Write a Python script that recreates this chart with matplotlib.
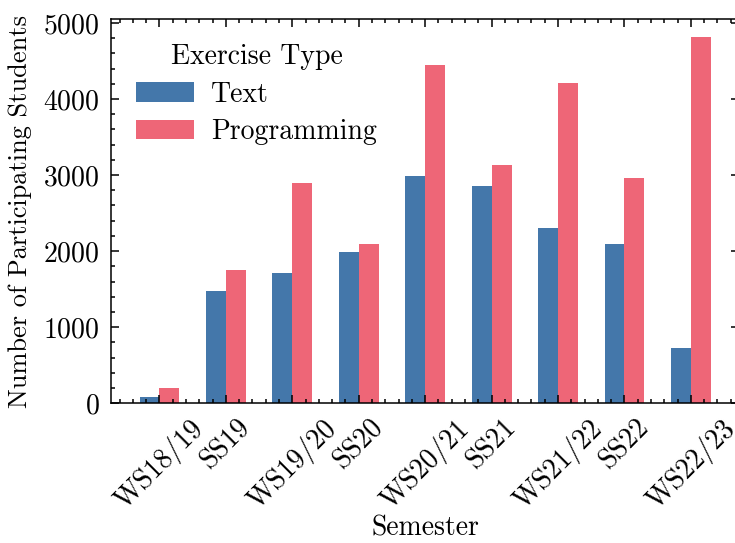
import matplotlib
matplotlib.use('Agg')
import matplotlib.pyplot as plt
import numpy as np
from matplotlib.ticker import AutoMinorLocator

# participation per semester
semesters = ['WS18/19', 'SS19', 'WS19/20', 'SS20', 'WS20/21',
             'SS21', 'WS21/22', 'SS22', 'WS22/23']
text_students = [85, 1480, 1715, 1985, 2985, 2850, 2300, 2090, 725]
prog_students = [205, 1750, 2895, 2090, 4440, 3130, 4205, 2960, 4810]

plt.rcParams['font.family'] = 'serif'
plt.rcParams['font.serif'] = ['cmr10']
plt.rcParams['mathtext.fontset'] = 'cm'
plt.rcParams['axes.formatter.use_mathtext'] = True
plt.rcParams['font.size'] = 20
plt.rcParams['axes.linewidth'] = 1.1
plt.rcParams['xtick.direction'] = 'in'
plt.rcParams['ytick.direction'] = 'in'
plt.rcParams['xtick.top'] = True
plt.rcParams['ytick.right'] = True
plt.rcParams['xtick.major.size'] = 6
plt.rcParams['ytick.major.size'] = 6
plt.rcParams['xtick.minor.size'] = 3
plt.rcParams['ytick.minor.size'] = 3
plt.rcParams['xtick.major.width'] = 1.1
plt.rcParams['ytick.major.width'] = 1.1
plt.rcParams['xtick.minor.width'] = 1.1
plt.rcParams['ytick.minor.width'] = 1.1
plt.rcParams['xtick.major.pad'] = 8
plt.rcParams['ytick.major.pad'] = 8
plt.rcParams['xtick.minor.visible'] = True
plt.rcParams['ytick.minor.visible'] = True

fig = plt.figure(figsize=(7.35, 5.43), dpi=100)
ax = fig.add_axes([0.151, 0.2573, 0.855, 0.7077])

x = np.arange(len(semesters))
w = 0.3
ax.bar(x - w/2, text_students, w, color='#4477AA', label='Text')
ax.bar(x + w/2, prog_students, w, color='#EE6677', label='Programming')

ax.set_xticks(x)
ax.set_xticklabels(semesters, rotation=45)
ax.xaxis.set_minor_locator(AutoMinorLocator())
ax.yaxis.set_minor_locator(AutoMinorLocator())
ax.set_xlabel('Semester', labelpad=0)
ax.set_ylabel('Number of Participating Students', fontsize=19, labelpad=8)

ax.legend(title='Exercise Type', frameon=False, loc='upper left',
          handlelength=2.1, handleheight=0.7, handletextpad=0.6,
          labelspacing=0.4, title_fontsize=20)

fig.savefig('out.png', dpi=100)
